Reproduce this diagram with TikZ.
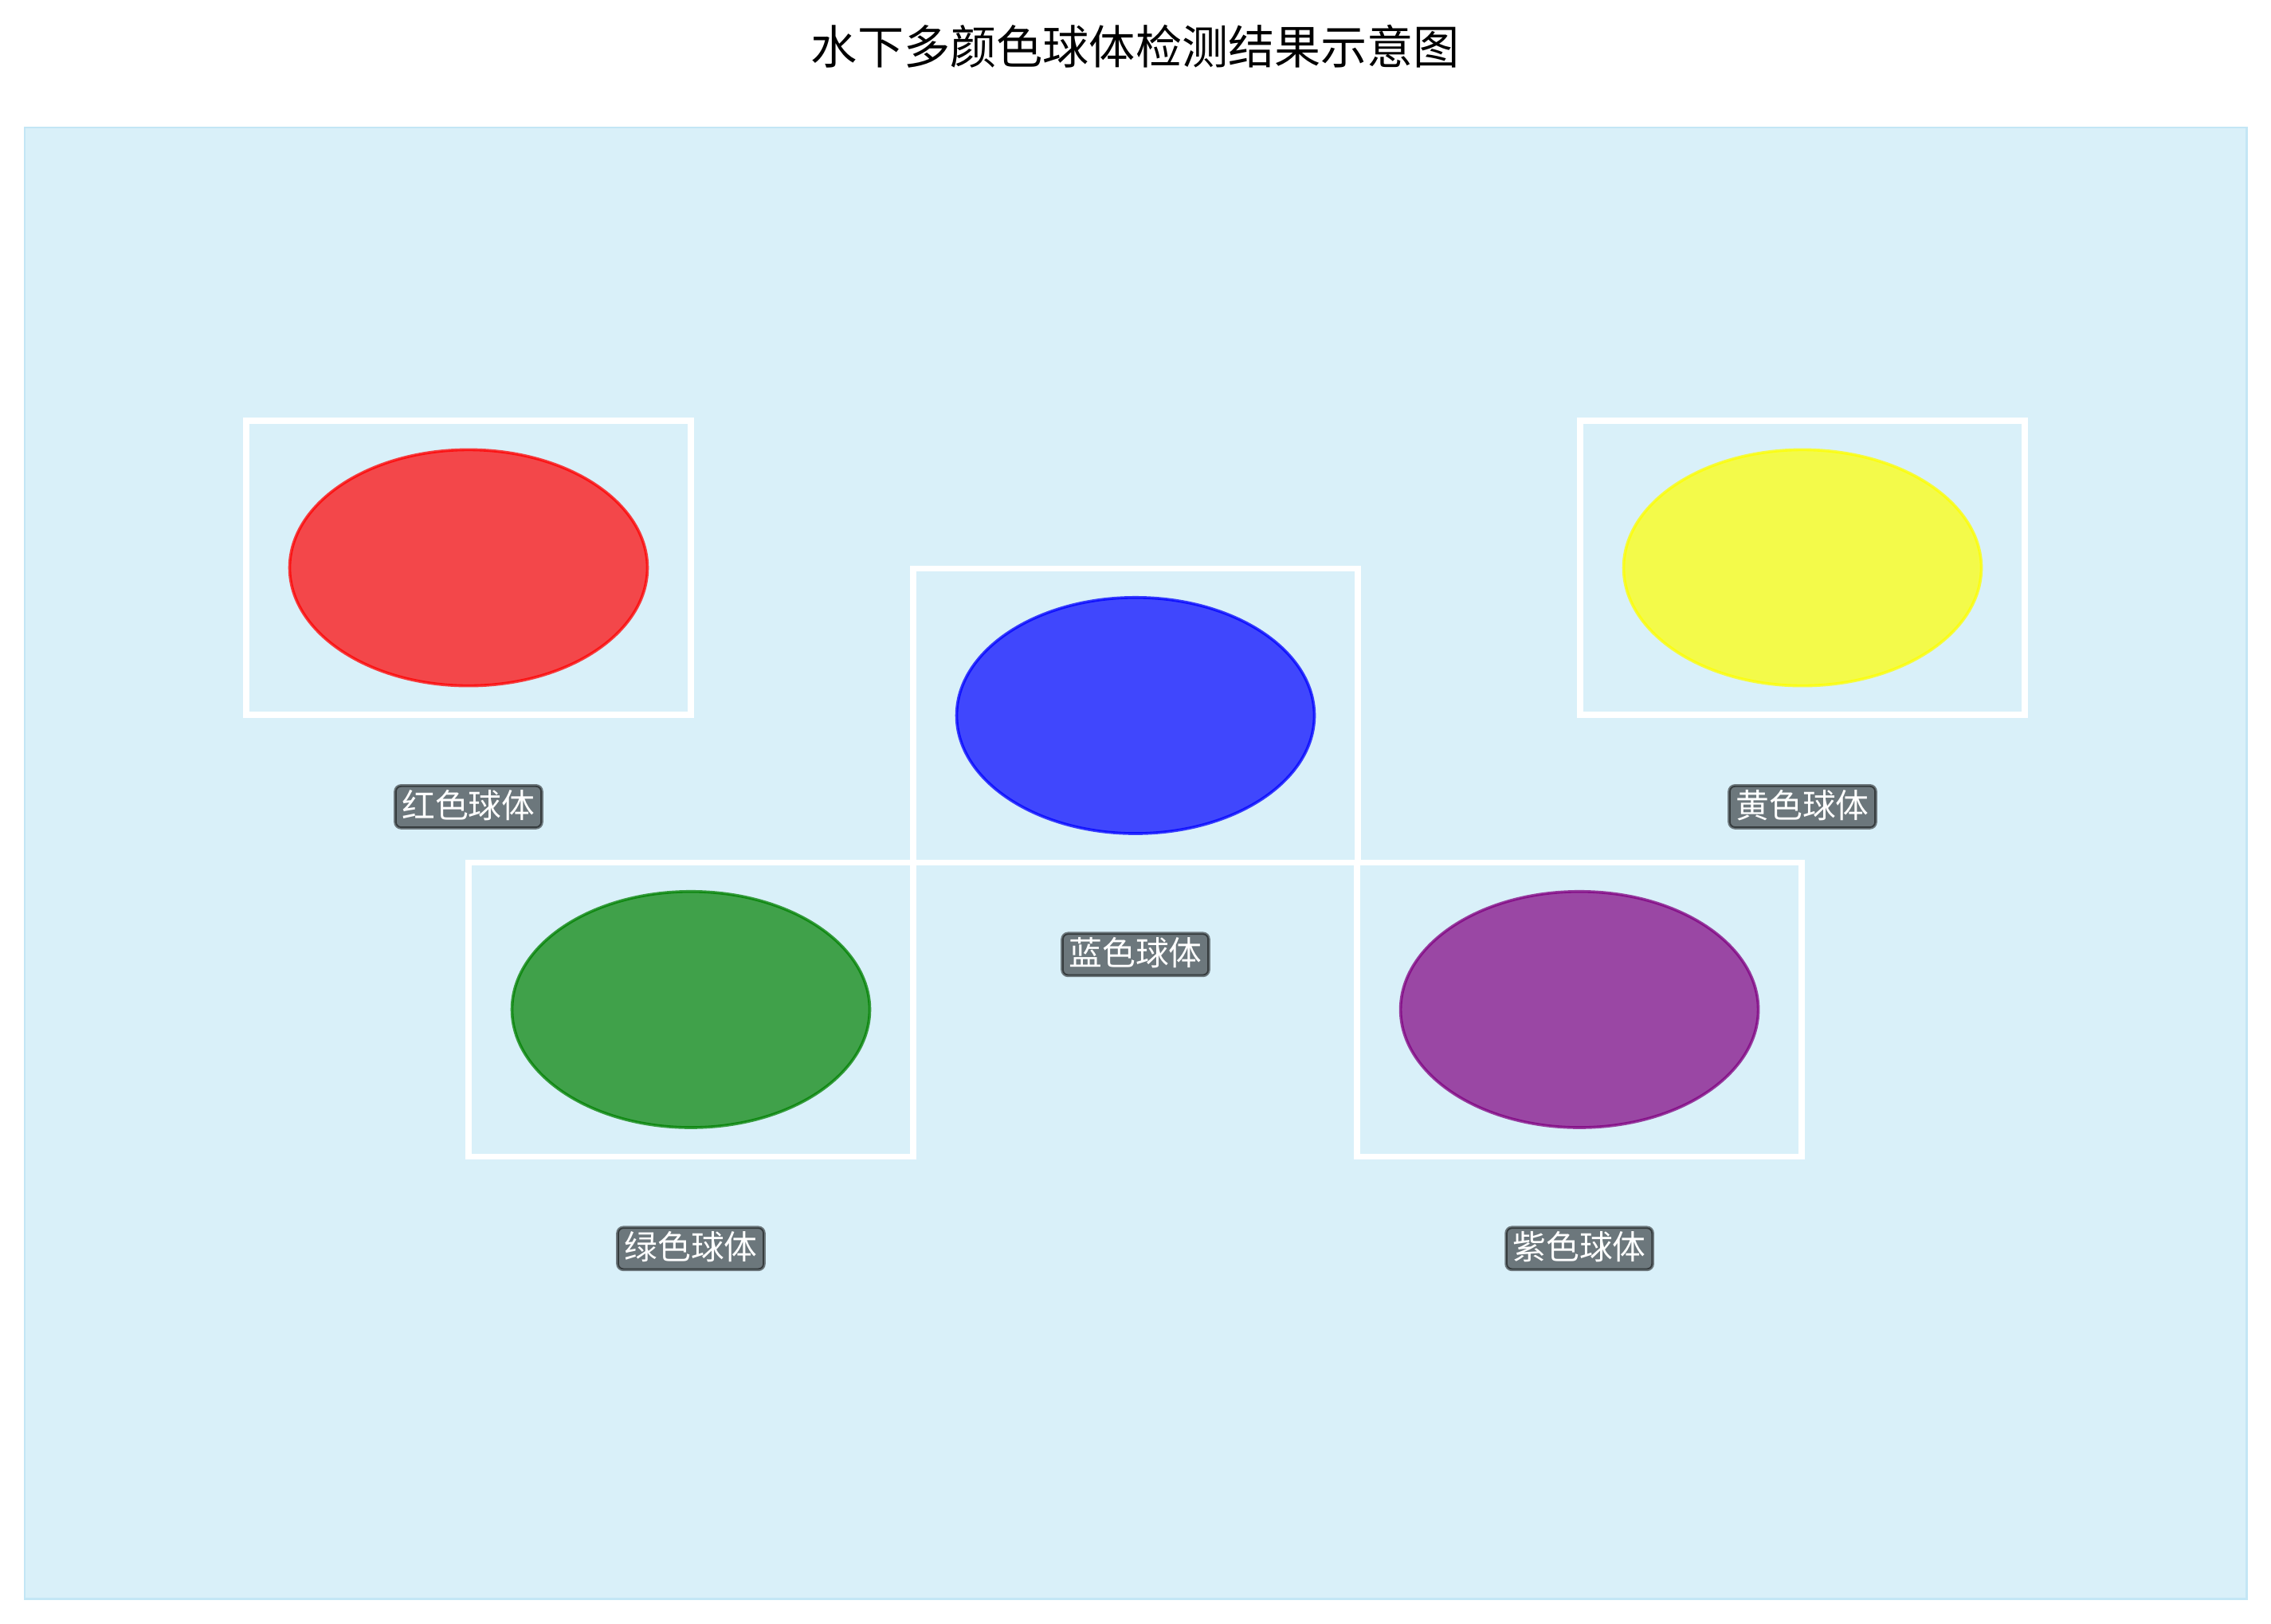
\documentclass[tikz,border=0pt]{standalone}
\usepackage{fontspec}
\setmainfont{Noto Sans CJK SC}
\usetikzlibrary{shapes.geometric}
\definecolor{water}{HTML}{D9F0F9}
\definecolor{waterline}{HTML}{C3E6F5}
\definecolor{mplgreen}{HTML}{008000}
\definecolor{mplpurple}{HTML}{800080}
\definecolor{mplyellow}{HTML}{FFFF00}

\begin{document}
\begin{tikzpicture}[x=0.5pt,y=-0.5pt]
	\tikzset{ball/.style={ellipse,minimum width=123.5pt,minimum height=81.5pt,inner sep=0pt,line width=1pt,fill opacity=0.7,draw opacity=0.75}}
	\tikzset{detbox/.style={rectangle,draw=white,line width=2pt,minimum width=153.5pt,minimum height=101.5pt,inner sep=0pt}}
	\tikzset{tag/.style={rounded corners=2pt,fill=black,fill opacity=0.5,draw=black,draw opacity=0.5,line width=1pt,text opacity=1,text=white,font=\fontsize{11.5}{11.5}\selectfont,text height=0.88em,text depth=0.12em,inner xsep=2.3pt,inner ysep=2.3pt}}
	\useasboundingbox (0,0) rectangle (1568,1120.7);
	\draw[fill=water,draw=waterline,line width=0.75pt] (17,88) rectangle (1551,1104);
	\node[font=\fontsize{16}{16}\selectfont] (title) at (784,32) {水下多颜色球体检测结果示意图};
	\foreach \name/\col/\x/\y/\txt in {red/red/323.5/392/红色球体,
			blue/blue/784/494/蓝色球体,
			yellow/mplyellow/1244.5/392/黄色球体,
			green/mplgreen/477/697/绿色球体,
			purple/mplpurple/1090.5/697/紫色球体}
	{
		\node[detbox] (box-\name) at (\x,\y) {};
		\node[ball,fill=\col,draw=\col] (ball-\name) at (box-\name.center) {};
		\node[tag] (tag-\name) at ([yshift=-82.5pt]box-\name.center) {\txt};
	}
\end{tikzpicture}
\end{document}
